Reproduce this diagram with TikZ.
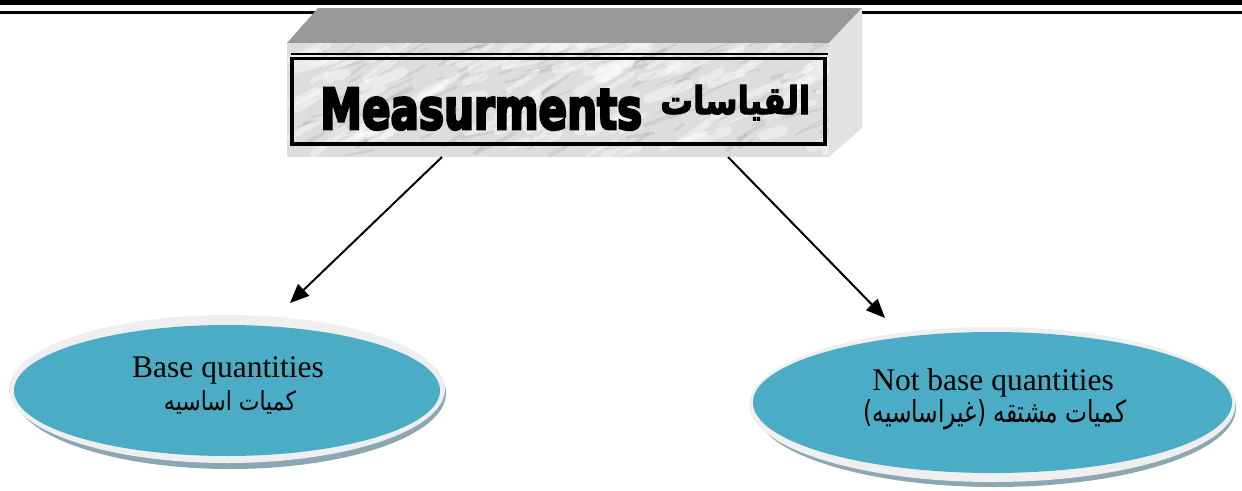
\documentclass[tikz,border=0pt]{standalone}
\usepackage{fontspec}
\setmainfont{Liberation Serif}
\newfontfamily\arabicfont[Script=Arabic]{DejaVu Sans}
\newfontfamily\arabichead[Script=Arabic,BoldFeatures={FakeBold=3}]{DejaVu Sans}
\newfontfamily\headfont[BoldFeatures={FakeBold=5}]{DejaVu Sans}
\TeXXeTstate=1
\usetikzlibrary{shapes.geometric,arrows.meta}
\definecolor{tealfill}{HTML}{4BACC6}
\definecolor{rimc}{HTML}{EFEFEF}
\definecolor{shadowc}{HTML}{8CA7B3}
\definecolor{topgray}{HTML}{999999}
\definecolor{sidegray}{HTML}{E2E2E2}
\definecolor{marble}{HTML}{DDDDDD}
\tikzset{
  ellnode/.style={ellipse, fill=tealfill, inner sep=0pt},
  txt/.style={inner sep=0pt, font=\fontsize{31.5}{36}\selectfont},
  arr/.style={line width=2pt, -{Triangle[length=19pt,width=16pt]}},
}
\begin{document}
\begin{tikzpicture}[x=1pt,y=-1pt]
\useasboundingbox (0,0) rectangle (1242,490);
% top rules
\fill[black] (0,0) rectangle (1242,5);
\fill[black] (0,11) rectangle (1242,14);
% 3D box
\fill[topgray] (318,8) -- (862,8) -- (829,43) -- (287,43) -- cycle;
\fill[sidegray] (829,43) -- (862,8) -- (862,128) -- (829,157) -- cycle;
\fill[marble] (287,43) rectangle (829,157);
\begin{scope}
  \clip (287,43) rectangle (829,157);
  \pgfmathsetseed{7}
  \foreach \i in {1,...,140}{
    \pgfmathsetmacro\xx{287+rnd*542}
    \pgfmathsetmacro\yy{43+rnd*114}
    \pgfmathsetmacro\ll{8+rnd*40}
    \pgfmathsetmacro\aa{-40+rnd*30}
    \pgfmathsetmacro\lw{1+rnd*3}
    \draw[gray!80, line width=\lw pt, opacity=0.22, line cap=round] (\xx,\yy) -- ++(\aa:\ll);
  }
  \foreach \i in {1,...,110}{
    \pgfmathsetmacro\xx{287+rnd*542}
    \pgfmathsetmacro\yy{43+rnd*114}
    \pgfmathsetmacro\ll{10+rnd*40}
    \pgfmathsetmacro\aa{-40+rnd*30}
    \pgfmathsetmacro\lw{3+rnd*8}
    \draw[white, line width=\lw pt, opacity=0.4, line cap=round] (\xx,\yy) -- ++(\aa:\ll);
  }
\end{scope}
% frames
\draw[line width=1.2pt] (291,54) -- (828,54);
\draw[line width=3.8pt] (292,58.5) rectangle (825,144);
% heading
\node[inner sep=0pt, anchor=base west] (head) at (320,129)
  {\resizebox{322pt}{41pt}{\headfont\bfseries Measurments}\hspace{18pt}\raisebox{15pt}{\resizebox{150pt}{29pt}{\arabichead\bfseries\beginR القياسات\endR}}};
% arrow end points
\coordinate (a1s) at (442,157);
\coordinate (a1e) at (290,303);
\coordinate (a2s) at (728,157);
\coordinate (a2e) at (885,318);
\draw[arr] (a1s) -- (a1e);
\draw[arr] (a2s) -- (a2e);
% left ellipse
\fill[shadowc] (230,393) ellipse [x radius=216, y radius=76];
\fill[rimc] (227,389) ellipse [x radius=218, y radius=74];
\node[ellnode, minimum width=426pt, minimum height=131pt] (base) at (227,390.5) {};
\node[txt, anchor=base] (baset) at (228,377) {Base quantities};
\node[inner sep=0pt, anchor=base] (basea) at (230,410) {\resizebox{132pt}{20pt}{\arabicfont\beginR كميات اساسيه\endR}};
% right ellipse
\fill[shadowc] (995,408) ellipse [x radius=241, y radius=79];
\fill[rimc] (992.5,404.5) ellipse [x radius=243, y radius=77.5];
\node[ellnode, minimum width=479pt, minimum height=141pt] (notbase) at (992.5,402.5) {};
\node[txt, anchor=base] (notbaset) at (993,390) {Not base quantities};
\node[inner sep=0pt, anchor=base] (notbasea) at (995,422) {\resizebox{263pt}{23pt}{\arabicfont\beginR كميات مشتقه (غيراساسيه)\endR}};
\end{tikzpicture}
\end{document}
